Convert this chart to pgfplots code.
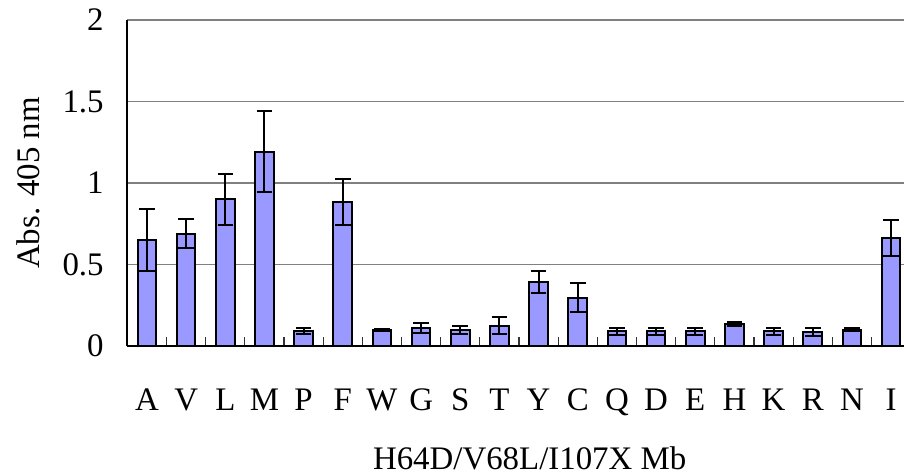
\documentclass[border=0pt]{standalone}
\usepackage{pgfplots}
\pgfplotsset{compat=1.18}
\usepackage{pgfplotstable}
\usepackage{fontspec}
\setmainfont{Liberation Serif}
\definecolor{barfill}{HTML}{9999FF}
\pgfplotstableread{
x lab val err
0  A 0.652 0.19
1  V 0.689 0.09
2  L 0.900 0.155
3  M 1.192 0.25
4  P 0.092 0.019
5  F 0.885 0.14
6  W 0.097 0.005
7  G 0.110 0.03
8  S 0.100 0.025
9  T 0.125 0.05
10 Y 0.395 0.067
11 C 0.296 0.09
12 Q 0.090 0.022
13 D 0.090 0.022
14 E 0.090 0.022
15 H 0.135 0.015
16 K 0.090 0.022
17 R 0.088 0.025
18 N 0.100 0.010
19 I 0.665 0.11
}\datatable
\begin{document}
\begin{tikzpicture}
\useasboundingbox (-63.7bp,-64.5bp) rectangle (388.3bp,173bp);
\begin{axis}[
  scale only axis,
  width=388.3bp, height=163bp,
  xmin=-0.5, xmax=19.33,
  ymin=0, ymax=2,
  axis x line*=bottom, axis y line*=left,
  axis line style={-, black, line width=1bp},
  font=\fontsize{16.5}{18}\selectfont,
  /pgf/number format/assume math mode=true,
  ytick={0,0.5,1,1.5,2},
  ymajorgrids,
  major grid style={draw=gray, line width=0.8bp},
  ytick style={draw=none},
  yticklabel style={anchor=east, inner sep=0pt, xshift=-11.7bp},
  xtick={0,...,19},
  xticklabels={A,V,L,M,P,F,W,G,S,T,Y,C,Q,D,E,H,K,R,N,I},
  major x tick style={draw=none},
  minor xtick={0.5,1.5,...,18.5},
  minor x tick style={draw=black!80, line width=0.6bp},
  minor tick length=4.5bp,
  xtick align=inside,
  xticklabel style={anchor=base, inner sep=0pt, yshift=-32bp},
  ylabel={Abs. 405 nm},
  ylabel style={at={(axis description cs:-0.128,0.5)}, anchor=center},
  xlabel={H64D/V68L/I107X Mb},
  xlabel style={at={(axis description cs:0.518,-0.344)}, anchor=center},
]
\addplot[ybar, bar width=9.3bp, fill=barfill, draw=black, line width=1bp,
  error bars/.cd, y dir=both, y explicit,
  error bar style={line width=1bp, black},
  error mark options={rotate=90, mark size=3.9bp, line width=1bp, black}]
  table[x=x, y=val, y error=err] {\datatable};
\end{axis}
\end{tikzpicture}
\end{document}
